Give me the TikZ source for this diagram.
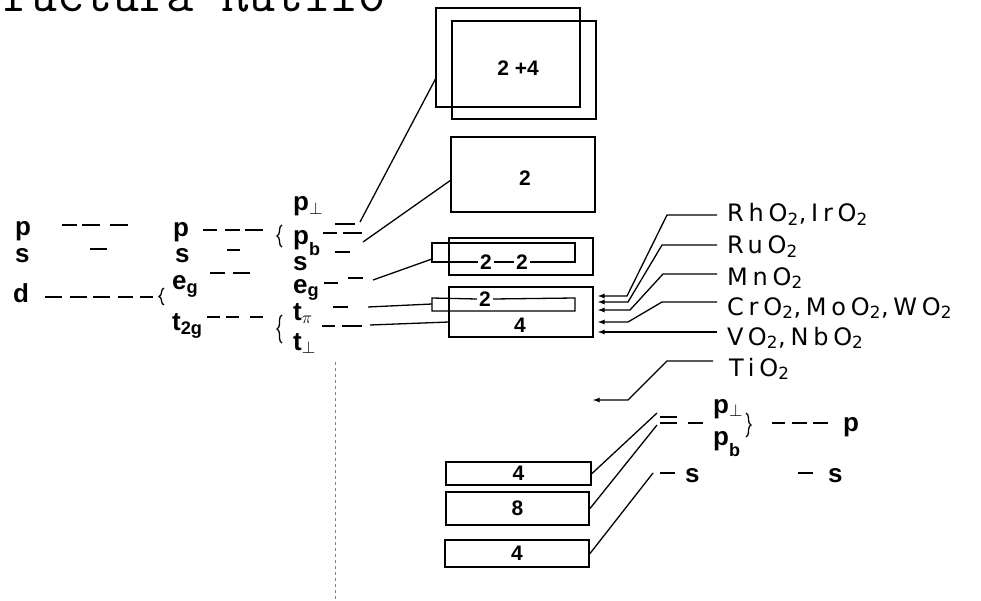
\documentclass[tikz,border=0pt]{standalone}
\usepackage{fontspec}
\setmainfont{Liberation Sans}
\newfontfamily\oxfont[LetterSpace=20]{DejaVu Sans}
\usepackage{tikz}
\usetikzlibrary{calc}
\usetikzlibrary{arrows, shapes}
\usetikzlibrary{decorations.pathreplacing}
\newcommand{\dsub}[1]{\raisebox{-11pt}{\fontsize{18}{18}\selectfont #1}}

\begin{document}
\begin{tikzpicture}[x=1pt, y=-1pt, >=latex]
\tikzstyle{lvl}=[line width=2.4pt]
\tikzstyle{link}=[line width=1.3pt]
\tikzstyle{band}=[draw, line width=2pt, inner sep=0pt]
\tikzstyle{orb}=[font=\bfseries\fontsize{26}{26}\selectfont, inner sep=0pt, anchor=base west]
\tikzstyle{oxide}=[font=\oxfont\fontsize{24}{24}\selectfont, inner sep=0pt, anchor=base west]
\tikzstyle{num}=[font=\bfseries\fontsize{21}{21}\selectfont, inner sep=1pt]
\tikzstyle{numgap}=[num, inner sep=2pt]
\tikzstyle{brc}=[decorate, decoration={brace, amplitude=5pt}, line width=1.3pt]

\useasboundingbox (0,0) rectangle (981,601);

\node[font=\ttfamily\fontsize{53}{53}\selectfont, anchor=base west, inner sep=0pt] (title) at (3,12) {ructura Rutilo};

\path (15,236) node[orb](pA) {p}
      (15,263) node[orb](sA) {s}
      (13,302) node[orb](dA) {d};
\draw[lvl] (62,225) -- (77,225) (82,225) -- (100,225) (110,225) -- (128,225);
\draw[lvl] (90,249) -- (107,249);
\draw[lvl] (45,297) -- (62,297) (70,297) -- (87,297) (93,297) -- (110,297) (118,297) -- (133,297) (140,297) -- (153,297);
\draw[brc] (164,305) -- (164,288);

\path (173,237) node[orb](pB) {p}
      (175,262) node[orb](sB) {s}
      (172,290) node[orb](egB) {e\textsubscript{g}}
      (172,330) node[orb](tB) {t\textsubscript{2g}};
\draw[lvl] (203,230) -- (217,230) (225,230) -- (240,230) (245,230) -- (263,230);
\draw[lvl] (227,250) -- (240,250);
\draw[lvl] (210,273) -- (225,273) (233,273) -- (250,273);
\draw[lvl] (207,317) -- (220,317) (226,317) -- (239,317) (250,317) -- (263,317);
\draw[brc] (282,247) -- (282,225);
\draw[brc] (282,343) -- (282,315);

\path (293,211) node[orb](pperp) {p\textsubscript{$\perp$}}
      (293,245) node[orb](pb) {p\dsub{b}}
      (293,271) node[orb](sC) {s}
      (293,293) node[orb](egC) {e\textsubscript{g}}
      (293,320) node[orb](tpi) {t\textsubscript{$\pi$}}
      (293,350) node[orb](tperp) {t\textsubscript{$\perp$}};
\draw[lvl] (335,224) -- (355,224) (323,233) -- (337,233) (343,233) -- (362,233);
\draw[lvl] (335,252) -- (350,252);
\draw[lvl] (324,283) -- (338,283) (348,278) -- (363,278);
\draw[lvl] (333,307) -- (348,307);
\draw[lvl] (322,326) -- (335,326) (342,326) -- (362,326);

\path (360,222) coordinate (ppEnd)
      (363,242) coordinate (pbEnd)
      (373,280) coordinate (egEnd)
      (368,307) coordinate (tpiEnd)
      (370,325) coordinate (tpEnd);

\path (508,57.5) node[band, minimum width=144pt, minimum height=99pt](back) {}
      (524,70) node[band, minimum width=144pt, minimum height=98pt](front) {}
      (523,174.5) node[band, minimum width=144pt, minimum height=75pt](box2) {}
      (521,256.5) node[band, minimum width=144pt, minimum height=37pt](box22) {}
      (521,312) node[band, minimum width=144pt, minimum height=50pt](box24) {}
      (518.5,473.5) node[band, num, minimum width=145pt, minimum height=23pt](boxa) {4}
      (517.5,508.5) node[band, num, minimum width=143pt, minimum height=33pt](box8) {8}
      (517,553.5) node[band, num, minimum width=144pt, minimum height=27pt](boxb) {4};

\path (518,68) node[num](n24) {2 +4}
      (525,178) node[num](n2) {2}
      (486,262) node[numgap](n22a) {2}
      (522,262) node[numgap](n22b) {2}
      (485,299) node[numgap](n24a) {2}
      (520,325) node[num](n4) {4};
\draw[link] (n22a.west) -- (432,262) -- (432,243) -- (575,243) -- (575,262) -- (n22b.east);
\draw[link] (n22a.east) -- (n22b.west);
\draw[link] (n24a.west) -- (432,298) -- (432,311) -- (575,311) -- (575,298) -- (n24a.east);

\path (436,78) coordinate (backL)
      (451,180) coordinate (box2L)
      (432,259) coordinate (tab22)
      (432,304) coordinate (tab24)
      (449,322) coordinate (box24L);
\draw[link] (ppEnd) -- (backL);
\draw[link] (pbEnd) -- (box2L);
\draw[link] (egEnd) -- (tab22);
\draw[link] (tpiEnd) -- (tab24);
\draw[link] (tpEnd) -- (box24L);

\path (727,222) node[oxide](rh) {RhO\textsubscript{2},IrO\textsubscript{2}}
      (727,254) node[oxide](ru) {RuO\textsubscript{2}}
      (727,285) node[oxide](mn) {MnO\textsubscript{2}}
      (727,315) node[oxide](cr) {CrO\textsubscript{2},MoO\textsubscript{2},WO\textsubscript{2}}
      (727,345) node[oxide](vo) {VO\textsubscript{2},NbO\textsubscript{2}}
      (729,376) node[oxide](ti) {TiO\textsubscript{2}};
\path (717,215) coordinate (rhA) (627,296) coordinate (rhB)
      (717,245) coordinate (ruA) (628,302) coordinate (ruB)
      (717,274) coordinate (mnA) (630,310) coordinate (mnB)
      (717,302) coordinate (crA) (628,322) coordinate (crB)
      (717,332) coordinate (voA)
      (713,361) coordinate (tiA) (628,400) coordinate (tiB);
\draw[link, ->] (rhA) -- ++(-50,0) -- (rhB) -- ++(-29,0);
\draw[link, ->] (ruA) -- ++(-55,0) -- (ruB) -- ++(-30,0);
\draw[link, ->] (mnA) -- ++(-54,0) -- (mnB) -- ++(-32,0);
\draw[link, ->] (crA) -- ++(-55,0) -- (crB) -- ++(-30,0);
\draw[link, ->] (voA) -- ++(-119,0);
\draw[link, ->] (tiA) -- ++(-46,0) -- (tiB) -- ++(-35,0);

\path (713,413) node[orb](pperpR) {p\textsubscript{$\perp$}}
      (713,445) node[orb](pbR) {p\dsub{b}}
      (843,431) node[orb](pR) {p}
      (685,482) node[orb](sR1) {s}
      (828,482) node[orb](sR2) {s};
\draw[lvl] (660,417) -- (677,417) (660,423) -- (677,423) (688,423) -- (703,423);
\draw[lvl] (660,473) -- (675,473);
\draw[lvl] (772,423) -- (785,423) (792,423) -- (807,423) (813,423) -- (828,423);
\draw[lvl] (798,473) -- (813,473);
\draw[brc] (746,413) -- (746,437);

\path (657,413) coordinate (eqTop)
      (657,425) coordinate (eqBot)
      (653,473) coordinate (sEnd);
\draw[link] (boxa.east) -- (eqTop);
\draw[link] (box8.east) -- (eqBot);
\draw[link] (boxb.east) -- (sEnd);

\draw[gray, dashed, line width=0.6pt] (335,362) -- (335,601);
\end{tikzpicture}
\end{document}
